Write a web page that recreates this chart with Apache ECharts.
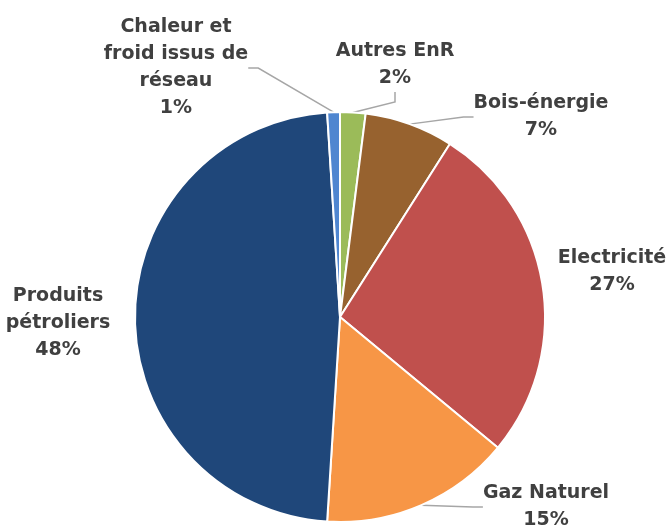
<!DOCTYPE html>
<html>
<head>
<meta charset="utf-8">
<script src="https://cdn.jsdelivr.net/npm/echarts@6/dist/echarts.min.js"></script>
<style>
  html, body { margin: 0; padding: 0; background: #fff; }
  #chart { width: 672px; height: 529px; }
</style>
</head>
<body>
<div id="chart"></div>
<script>
// Energy consumption mix by source (%)
const categories = [
  'Autres EnR',
  'Bois-énergie',
  'Electricité',
  'Gaz Naturel',
  'Produits\npétroliers',
  'Chaleur et\nfroid issus de\nréseau'
];
const shares = [2, 7, 27, 15, 48, 1];
const colors = ['#9BBB59', '#97622F', '#C0504D', '#F79646', '#1F477A', '#4F86D0'];

// Label anchor points (centre of each text block) and whether a leader line is drawn
const labelSpots = [
  [395, 65], [541, 117], [612, 272], [546, 507], [58, 323], [176, 68]
];
const showLeader = [true, true, false, true, false, true];

const chart = echarts.init(document.getElementById('chart'));
chart.setOption({
  animation: false,
  series: [{
    type: 'pie',
    center: [340, 317],
    radius: [0, 205],
    startAngle: 90,
    clockwise: true,
    data: categories.map((name, i) => ({
      name: name,
      value: shares[i],
      itemStyle: { color: colors[i] },
      labelLine: { show: showLeader[i] }
    })),
    itemStyle: { borderColor: '#ffffff', borderWidth: 2 },
    label: {
      show: true,
      formatter: '{b}\n{c}%',
      color: '#404040',
      fontFamily: 'DejaVu Sans',
      fontWeight: 'bold',
      fontSize: 19,
      lineHeight: 27,
      align: 'center',
      overflow: 'none'
    },
    labelLine: {
      show: true,
      length: 10,
      length2: 10,
      lineStyle: { color: '#A6A6A6', width: 1.5 }
    },
    labelLayout: function (p) {
      const s = labelSpots[p.dataIndex];
      return { x: s[0], y: s[1], align: 'center', verticalAlign: 'middle' };
    }
  }]
});
</script>
</body>
</html>
